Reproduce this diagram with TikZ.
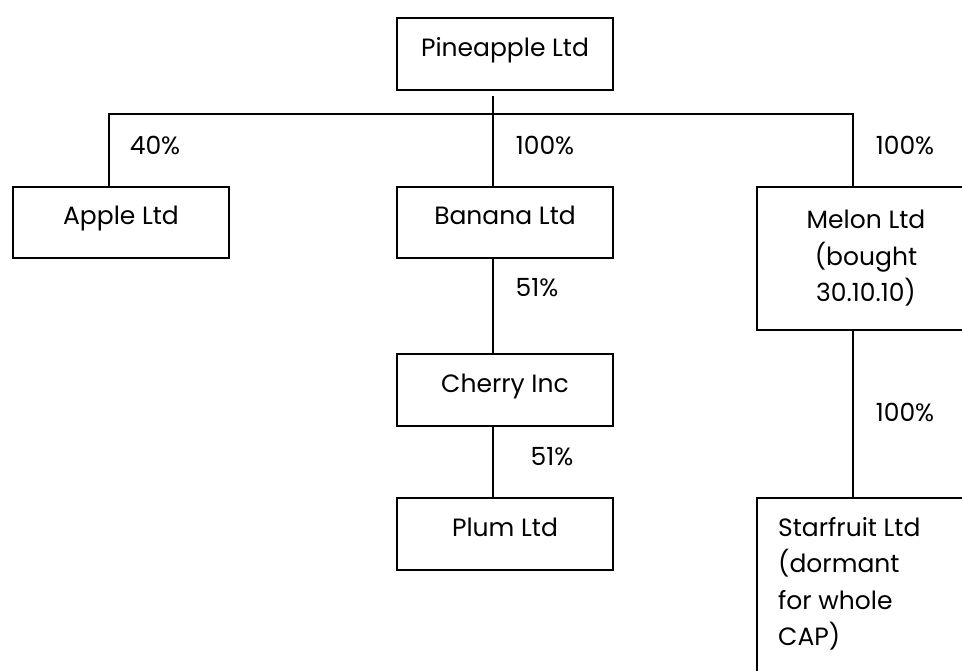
\documentclass[tikz,border=0pt]{standalone}
\usepackage{fontspec}
\setmainfont{Poppins}
\begin{document}
\begin{tikzpicture}[x=1pt,y=-1pt,
  every node/.style={font=\fontsize{25}{36.5}\selectfont},
  box/.style={draw=black, line width=1.8pt, rectangle, inner sep=0pt, text=black},
  sbox/.style={box, minimum width=216pt, text height=18pt, text depth=14pt},
  pct/.style={inner sep=0pt, text=black},
  conn/.style={draw=black, line width=1.8pt}]
\useasboundingbox (0,0) rectangle (962,670);
\fill[white] (0,0) rectangle (962,670);
\clip (0,0) rectangle (962,670);
% boxes
\node[sbox, minimum height=72pt] (pine) at (505,54) {Pineapple Ltd};
\node[sbox, minimum height=71pt] (apple) at (121,222.5) {Apple Ltd};
\node[sbox, minimum height=71pt] (banana) at (505,222.5) {Banana Ltd};
\node[sbox, minimum height=72pt] (cherry) at (505,390) {Cherry Inc};
\node[sbox, minimum height=72pt] (plum) at (505,534) {Plum Ltd};
\node[box, minimum width=218pt, minimum height=143pt, align=center] (melon) at (866,258.5) {Melon Ltd\\(bought\\30.10.10)};
\node[box, minimum width=218pt, minimum height=202pt] (star) at (866,599) {};
\node[pct, anchor=north west, align=left] (startext) at (778,517) {Starfruit Ltd\\(dormant\\for whole\\CAP)};
% connector points
\coordinate (hl) at (109,114);
\coordinate (hr) at (853,114);
\coordinate (trunk) at (493,0);
\draw[conn] ([yshift=-5pt]pine.south -| trunk) -- (banana.north -| trunk);
\draw[conn] (apple.north -| hl) -- (hl) -- (hr) -- (melon.north -| hr);
\draw[conn] (banana.south -| trunk) -- (cherry.north -| trunk);
\draw[conn] (cherry.south -| trunk) -- (plum.north -| trunk);
\draw[conn] (melon.south -| hr) -- (star.north -| hr);
% percentages
\node[pct] (p40) at (155,145) {40\%};
\node[pct] (p100b) at (545,145) {100\%};
\node[pct] (p100m) at (905,145) {100\%};
\node[pct] (p51c) at (537,288) {51\%};
\node[pct] (p51p) at (552,457) {51\%};
\node[pct] (p100s) at (905,412) {100\%};
\end{tikzpicture}
\end{document}
